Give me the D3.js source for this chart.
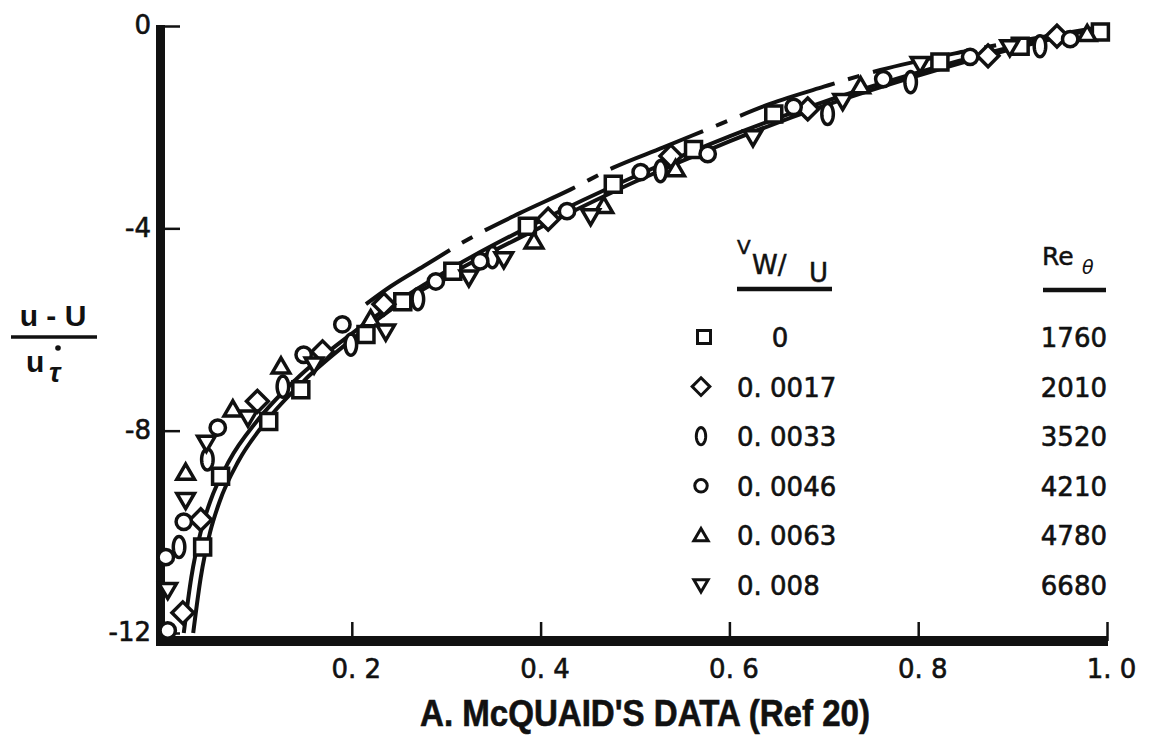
<!DOCTYPE html>
<html>
<head>
<meta charset="utf-8">
<script src="https://cdn.jsdelivr.net/npm/d3@7/dist/d3.min.js"></script>
<style>
  body { margin: 0; background: #fff; }
  svg { display: block; }
  text { fill: #111; }
</style>
</head>
<body>
<svg id="chart" width="1153" height="745"></svg>
<script>
// tick labels
var xTicks = [0.2, 0.4, 0.6, 0.8, 1.0];
var xTickLabels = ["0. 2", "0. 4", "0. 6", "0. 8", "1. 0"];
var yTicks = [0, -4, -8, -12];
var yTickLabels = ["0", "-4", "-8", "-12"];

// legend
var blowing = ["0", "0. 0017", "0. 0033", "0. 0046", "0. 0063", "0. 008"];
var reTheta = ["1760", "2010", "3520", "4210", "4780", "6680"];
var shapes = ["square", "diamond", "ellipse", "circle", "triUp", "triDown"];

// data points, [eta, (u-U)/u*tau]
var sqPts = [[0.042,-10.3],[0.061,-8.9],[0.112,-7.82],[0.146,-7.19],[0.215,-6.1],[0.254,-5.45],
  [0.307,-4.85],[0.386,-3.96],[0.477,-3.13],[0.562,-2.44],[0.647,-1.74],[0.823,-0.71],[0.908,-0.4],[0.993,-0.12]];
var diaPts = [[0.021,-11.6],[0.04,-9.76],[0.1,-7.42],[0.169,-6.44],[0.234,-5.5],[0.408,-3.82],
  [0.538,-2.57],[0.683,-1.64],[0.874,-0.59],[0.947,-0.2]];
var ellPts = [[0.017,-10.3],[0.047,-8.57],[0.127,-7.13],[0.199,-6.3],[0.27,-5.4],[0.349,-4.57],
  [0.527,-2.87],[0.704,-1.74],[0.792,-1.11],[0.929,-0.4]];
var cirPts = [[0.003,-10.5],[0.005,-11.95],[0.022,-9.8],[0.058,-7.94],[0.149,-6.5],[0.19,-5.9],
  [0.289,-5.05],[0.336,-4.65],[0.428,-3.66],[0.506,-2.89],[0.577,-2.53],[0.668,-1.6],[0.763,-1.05],
  [0.855,-0.61],[0.961,-0.26]];
var upPts = [[0.024,-8.83],[0.074,-7.58],[0.125,-6.73],[0.22,-5.8],[0.393,-4.26],[0.467,-3.56],
  [0.543,-2.83],[0.739,-1.19],[0.979,-0.16]];
var dnPts = [[0.005,-11.15],[0.024,-9.37],[0.046,-8.24],[0.09,-7.74],[0.16,-6.69],[0.236,-6.04],
  [0.324,-4.97],[0.361,-4.61],[0.453,-3.76],[0.625,-2.2],[0.72,-1.48],[0.802,-0.75],[0.897,-0.42]];

// curves
var solidAX = [0.032,0.04,0.05,0.06,0.08,0.11,0.15,0.2,0.25,0.3,0.35,0.4,0.5,0.6,0.7,0.8,0.9,1.0];
var solidAY = [-12,-10.9,-10.0,-9.4,-8.6,-7.8,-7.0,-6.2,-5.5,-4.95,-4.45,-3.98,-3.08,-2.28,-1.58,-0.98,-0.45,0];
var solidBX = [0.022,0.03,0.04,0.05,0.07,0.1,0.14,0.2,0.3,0.4,0.5,0.6,0.7,0.8,0.9,1.0];
var solidBY = [-12,-10.9,-10.0,-9.4,-8.6,-7.8,-7.0,-6.08,-4.85,-3.85,-2.97,-2.18,-1.5,-0.92,-0.41,0];
var dashX = [0.215,0.241,0.276,0.323,0.378,0.432,0.477,0.53,0.59,0.643,0.7,0.76,0.85,0.93,1.0];
var dashY = [-5.5,-5.15,-4.75,-4.22,-3.7,-3.23,-2.8,-2.4,-1.94,-1.54,-1.2,-0.87,-0.5,-0.22,0];

var svg = d3.select("#chart");
var x = d3.scaleLinear().domain([0, 1]).range([163, 1107]);
var y = d3.scaleLinear().domain([-12, 0]).range([633, 26]);
var font = "'DejaVu Sans', sans-serif";

// axes with inward ticks
var xAxis = d3.axisBottom(x).tickValues(xTicks)
  .tickFormat(function (d, i) { return xTickLabels[i]; })
  .tickSizeInner(-19).tickSizeOuter(0).tickPadding(19);
var gx = svg.append("g").attr("transform", "translate(0," + (y(-12) + 8) + ")").call(xAxis);
gx.select(".domain").remove();
gx.selectAll(".tick line").attr("stroke", "#111").attr("stroke-width", 2.5);
gx.selectAll(".tick text").attr("font-family", font).attr("font-size", 26).attr("fill", "#111")
  .attr("stroke", "#111").attr("stroke-width", 0.6).attr("dx", 4);

var yAxis = d3.axisLeft(y).tickValues(yTicks)
  .tickFormat(function (d, i) { return yTickLabels[i]; })
  .tickSizeInner(-20).tickSizeOuter(0).tickPadding(9);
var gy = svg.append("g").attr("transform", "translate(" + (x(0) - 3) + ",0)").call(yAxis);
gy.select(".domain").remove();
gy.selectAll(".tick line").attr("stroke", "#111").attr("stroke-width", 2.5);
gy.selectAll(".tick text").attr("font-family", font).attr("font-size", 26).attr("fill", "#111")
  .attr("stroke", "#111").attr("stroke-width", 0.6).attr("dy", "0.3em");

// thick frame lines
svg.append("line").attr("x1", x(0) - 2.5).attr("x2", x(0) - 2.5)
  .attr("y1", y(0) - 1).attr("y2", y(-12) + 13)
  .attr("stroke", "#111").attr("stroke-width", 9);
svg.append("line").attr("x1", x(0) - 7).attr("x2", x(1) + 1)
  .attr("y1", y(-12) + 8).attr("y2", y(-12) + 8)
  .attr("stroke", "#111").attr("stroke-width", 10);

// curves
var line = d3.line().x(function (d) { return x(d[0]); }).y(function (d) { return y(d[1]); })
  .curve(d3.curveMonotoneX);
var solidA = d3.zip(solidAX, solidAY);
var solidB = d3.zip(solidBX, solidBY);
var dashed = d3.zip(dashX, dashY);
var curves = svg.append("g").attr("fill", "none").attr("stroke", "#111");
curves.append("path").attr("d", line(solidA)).attr("stroke-width", 4);
curves.append("path").attr("d", line(solidB)).attr("stroke-width", 4);
curves.append("path").attr("d", line(dashed)).attr("stroke-width", 4)
  .attr("stroke-dasharray", "100,14,12,14");

// marker shapes
function shapePath(kind, s) {
  var p = d3.path();
  if (kind === "square") {
    p.rect(-s / 2, -s / 2, s, s);
  } else if (kind === "diamond") {
    var r = s * 0.68;
    p.moveTo(0, -r); p.lineTo(r, 0); p.lineTo(0, r); p.lineTo(-r, 0); p.closePath();
  } else if (kind === "ellipse") {
    var rx = s * 0.36, ry = s * 0.66;
    p.moveTo(rx, 0);
    for (var a = 0; a <= 36; a++) {
      var t = a / 36 * Math.PI * 2;
      p.lineTo(rx * Math.cos(t), ry * Math.sin(t));
    }
    p.closePath();
  } else if (kind === "circle") {
    p.arc(0, 0, s * 0.48, 0, Math.PI * 2);
  } else if (kind === "triUp") {
    var h = s * 0.9;
    p.moveTo(0, -h * 0.6); p.lineTo(s * 0.55, h * 0.45); p.lineTo(-s * 0.55, h * 0.45); p.closePath();
  } else {
    var h2 = s * 0.9;
    p.moveTo(0, h2 * 0.6); p.lineTo(s * 0.55, -h2 * 0.45); p.lineTo(-s * 0.55, -h2 * 0.45); p.closePath();
  }
  return p.toString();
}

var series = [sqPts, diaPts, ellPts, cirPts, upPts, dnPts];
var marks = svg.append("g");
series.forEach(function (pts, i) {
  marks.selectAll(".m" + i).data(pts).enter().append("path")
    .attr("class", "m" + i)
    .attr("transform", function (d) { return "translate(" + x(d[0]) + "," + y(d[1]) + ")"; })
    .attr("d", shapePath(shapes[i], 16))
    .attr("fill", "#fff").attr("stroke", "#111").attr("stroke-width", 3.5);
});

// legend
var leg = svg.append("g");
leg.append("text").attr("x", 737).attr("y", 254).attr("font-family", font).attr("font-size", 20)
  .attr("stroke", "#111").attr("stroke-width", 0.5).text("V");
leg.append("text").attr("x", 752).attr("y", 274).attr("font-family", font).attr("font-size", 26)
  .attr("stroke", "#111").attr("stroke-width", 0.5).text("W/");
leg.append("text").attr("x", 809).attr("y", 282).attr("font-family", font).attr("font-size", 26)
  .attr("stroke", "#111").attr("stroke-width", 0.5).text("U");
leg.append("line").attr("x1", 737).attr("x2", 832).attr("y1", 289).attr("y2", 289)
  .attr("stroke", "#111").attr("stroke-width", 4.5);
leg.append("text").attr("x", 1042).attr("y", 265).attr("font-family", font).attr("font-size", 25)
  .attr("stroke", "#111").attr("stroke-width", 0.5).text("Re");
leg.append("text").attr("x", 1082).attr("y", 274).attr("font-family", font).attr("font-size", 19)
  .attr("font-style", "italic").text("θ");
leg.append("line").attr("x1", 1043).attr("x2", 1106).attr("y1", 290).attr("y2", 290)
  .attr("stroke", "#111").attr("stroke-width", 4.5);

var rowY = d3.scaleLinear().domain([0, 5]).range([337, 585]);
blowing.forEach(function (b, i) {
  var cy = rowY(i);
  leg.append("path").attr("transform", "translate(" + (i === 0 ? 704 : 701) + "," + cy + ")")
    .attr("d", shapePath(shapes[i], 13))
    .attr("fill", "#fff").attr("stroke", "#111").attr("stroke-width", 3);
  leg.append("text").attr("x", i === 0 ? 780 : 737).attr("y", cy + 10)
    .attr("text-anchor", i === 0 ? "middle" : "start")
    .attr("font-family", font).attr("font-size", 26)
    .attr("stroke", "#111").attr("stroke-width", 0.6).text(b);
  leg.append("text").attr("x", 1107).attr("y", cy + 10).attr("text-anchor", "end")
    .attr("font-family", font).attr("font-size", 26)
    .attr("stroke", "#111").attr("stroke-width", 0.6).text(reTheta[i]);
});

// y axis label (fraction)
var yl = svg.append("g").attr("font-family", "'Liberation Sans Narrow', 'Liberation Sans', sans-serif")
  .attr("font-weight", "bold");
yl.append("text").attr("x", 53).attr("y", 326).attr("text-anchor", "middle").attr("font-size", 30)
  .text("u - U");
yl.append("line").attr("x1", 11).attr("x2", 97).attr("y1", 337).attr("y2", 337)
  .attr("stroke", "#111").attr("stroke-width", 3.5);
yl.append("text").attr("x", 26).attr("y", 372).attr("font-size", 30).text("u");
yl.append("circle").attr("cx", 58).attr("cy", 348).attr("r", 2.8).attr("fill", "#111");
yl.append("text").attr("x", 49).attr("y", 382).attr("font-size", 28).attr("font-style", "italic").text("τ");

// title
svg.append("text").attr("x", 420).attr("y", 726)
  .attr("font-family", "'Liberation Sans Narrow', 'Liberation Sans', sans-serif")
  .attr("font-weight", "bold").attr("font-size", 36)
  .attr("stroke", "#111").attr("stroke-width", 0.6)
  .attr("textLength", 450).attr("lengthAdjust", "spacingAndGlyphs")
  .text("A. McQUAID'S DATA (Ref 20)");
</script>
</body>
</html>
